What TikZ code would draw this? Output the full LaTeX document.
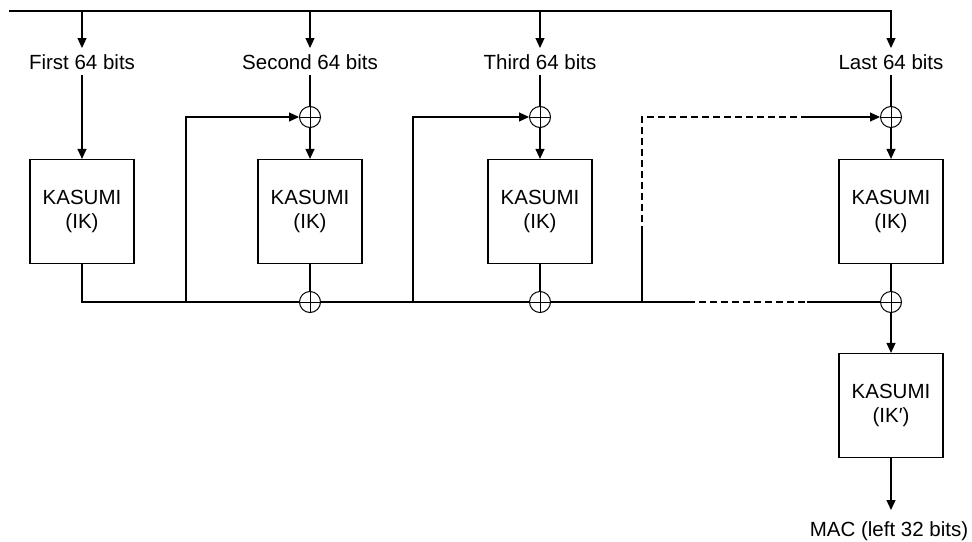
\documentclass[tikz,border=0pt]{standalone}
\usepackage{fontspec}
\setmainfont{Liberation Sans}
\usetikzlibrary{arrows.meta}

\tikzset{
  flow/.style={line width=1.2pt},
  tip/.style={flow, -{Triangle[length=10pt,width=9pt]}},
  kasumi/.style={draw, line width=1.2pt, minimum width=104pt, minimum height=104pt,
    align=center, inner sep=0pt, font=\fontsize{20.5}{24}\selectfont},
  xor/.style={circle, draw, line width=1pt, minimum size=21pt, inner sep=0pt,
    path picture={\draw[line width=1pt]
      (path picture bounding box.north) -- (path picture bounding box.south)
      (path picture bounding box.west) -- (path picture bounding box.east);}},
  bitlbl/.style={inner xsep=0pt, inner ysep=6pt, text height=15pt, text depth=0pt,
    font=\fontsize{20.5}{24}\selectfont},
}

\begin{document}
\begin{tikzpicture}[x=1pt, y=1pt, line join=miter]
\useasboundingbox (0,0) rectangle (972,-541);

% linea di ingresso
\coordinate (start) at (9,-11);
\foreach \n/\x in {1/82, 2/310, 3/540, 4/891}
  \coordinate (top\n) at (\x,-11);

% etichette dei blocchi
\node[bitlbl, anchor=north] (lbl1) at (82,-48) {First 64 bits};
\node[bitlbl, anchor=north] (lbl2) at (310,-48) {Second 64 bits};
\node[bitlbl, anchor=north] (lbl3) at (540,-48) {Third 64 bits};
\node[bitlbl, anchor=north] (lbl4) at (891,-48) {Last 64 bits};

% xor
\foreach \n/\x in {2/310, 3/540, 4/891} {
  \node[xor] (xin\n) at (\x,-117) {};
  \node[xor] (xout\n) at (\x,-302) {};
}

% KASUMI
\node[kasumi] (k1) at (82,-211.5) {KASUMI\\(IK)};
\node[kasumi] (k2) at (310,-211.5) {KASUMI\\(IK)};
\node[kasumi] (k3) at (540,-211.5) {KASUMI\\(IK)};
\node[kasumi] (k4) at (891,-211.5) {KASUMI\\(IK)};
\node[kasumi] (kf) at (891,-405.5) {KASUMI\\(IK′)};

\node[bitlbl, inner ysep=11pt, anchor=north] (mac) at (889,-510) {MAC (left 32 bits)};

% frecce dall'alto
\draw[tip] (start) -- (top4) -- (lbl4.north);
\foreach \n in {1,2,3}
  \draw[tip] (top\n) -- (lbl\n.north);

\draw[tip] (lbl1.south) -- (k1.north);
\foreach \n in {2,3,4} {
  \draw[flow] (lbl\n.south) -- (xin\n.north);
  \draw[tip] (xin\n.south) -- (k\n.north);
  \draw[flow] (k\n.south) -- (xout\n.north);
}

% catena in basso
\coordinate (b1) at (82,-302);
\draw[flow] (k1.south) -- (b1) -- (xout2.west);
\draw[flow] (xout2.east) -- (xout3.west);

% retroazione
\coordinate (fb2) at (186,-302);
\coordinate (fb3) at (413,-302);
\draw[tip] (fb2) -- (fb2 |- xin2) -- (xin2.west);
\draw[tip] (fb3) -- (fb3 |- xin3) -- (xin3.west);

% ultimo blocco (tratteggiato)
\coordinate (fb4) at (642,-302);
\coordinate (d1) at (688,-302);
\coordinate (d2) at (807,-302);
\coordinate (v1) at (642,-233);
\coordinate (d3) at (807,-117);
\draw[flow] (xout3.east) -- (d1);
\draw[flow, dash pattern=on 7pt off 4pt] (d1) -- (d2);
\draw[flow] (d2) -- (xout4.west);
\draw[flow] (fb4) -- (v1);
\draw[flow, dash pattern=on 7pt off 4pt] (v1) -- (fb4 |- d3) -- (d3);
\draw[tip] (d3) -- (xin4.west);

% uscita
\draw[tip] (xout4.south) -- (kf.north);
\draw[tip] (kf.south) -- (kf.south |- mac.north);
\end{tikzpicture}
\end{document}
